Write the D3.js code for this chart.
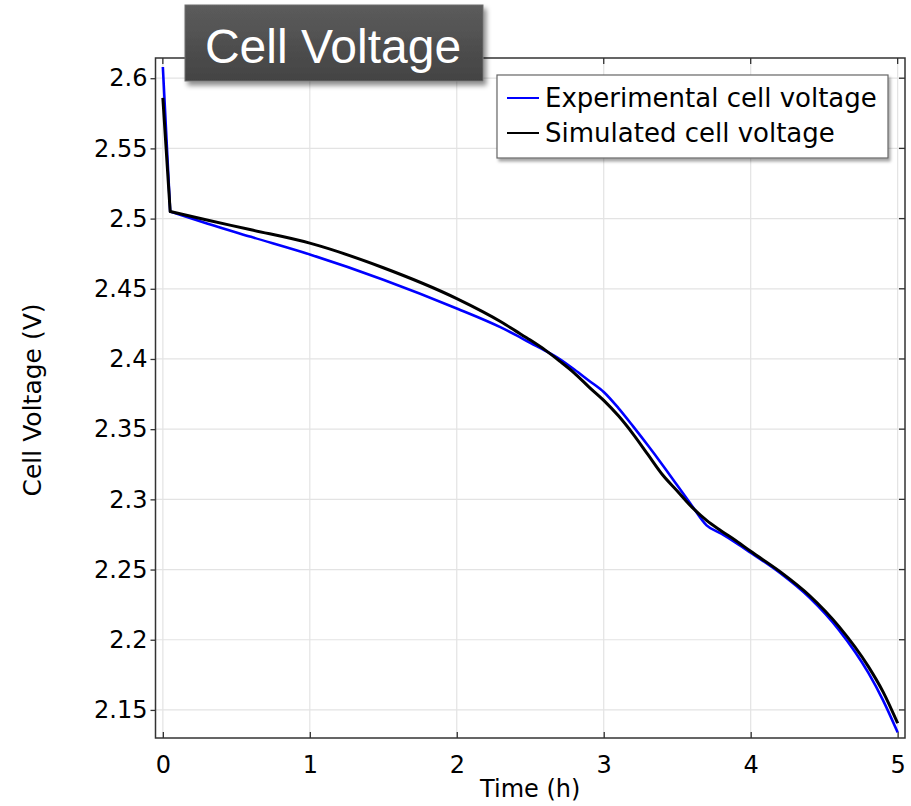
<!DOCTYPE html>
<html>
<head>
<meta charset="utf-8">
<script src="https://cdn.jsdelivr.net/npm/d3@7"></script>
<style>
  html, body { margin: 0; padding: 0; background: #fff; }
  svg { display: block; }
</style>
</head>
<body>
<svg id="chart" width="911" height="806"></svg>
<script>
// ---- data ----
const expTime = [0, 0.05, 0.3, 0.6, 1.0, 1.5, 2.0, 2.3, 2.4, 2.5, 2.6, 2.7, 2.8, 2.9, 3.0, 3.1, 3.2, 3.3, 3.4, 3.5, 3.6, 3.7, 3.8, 3.9, 4.0, 4.2, 4.4, 4.6, 4.8, 4.9, 5.0];
const expVolt = [2.608, 2.505, 2.4965, 2.487, 2.4745, 2.4565, 2.436, 2.4225, 2.4172, 2.4115, 2.406, 2.400, 2.3925, 2.3845, 2.3765, 2.365, 2.352, 2.3385, 2.3245, 2.310, 2.2955, 2.2815, 2.2755, 2.269, 2.262, 2.2475, 2.230, 2.207, 2.1765, 2.157, 2.134];
const simTime = [0, 0.05, 0.3, 0.6, 1.0, 1.5, 2.0, 2.3, 2.4, 2.5, 2.6, 2.7, 2.8, 2.9, 3.0, 3.1, 3.2, 3.3, 3.4, 3.5, 3.6, 3.7, 3.8, 3.9, 4.0, 4.2, 4.4, 4.6, 4.8, 4.9, 5.0];
const simVolt = [2.586, 2.505, 2.499, 2.492, 2.4825, 2.465, 2.443, 2.4265, 2.420, 2.4135, 2.4065, 2.3985, 2.390, 2.380, 2.3705, 2.3595, 2.3465, 2.332, 2.3175, 2.306, 2.2945, 2.285, 2.2775, 2.2705, 2.263, 2.2485, 2.2315, 2.2095, 2.181, 2.163, 2.1405];
const xTicks = [0, 1, 2, 3, 4, 5];
const yTicks = [2.15, 2.2, 2.25, 2.3, 2.35, 2.4, 2.45, 2.5, 2.55, 2.6];
const seriesNames = ["Experimental cell voltage", "Simulated cell voltage"];
const seriesColors = ["#0000ff", "#000000"];
const titleText = "Cell Voltage";
const xLabel = "Time (h)";
const yLabel = "Cell Voltage (V)";

// ---- layout ----
const svg = d3.select("#chart");
const L = 155.5, R = 905, T = 58, B = 738;
const x = d3.scaleLinear().domain([-0.05, 5.05]).range([L, R]);
const y = d3.scaleLinear().domain([2.13, 2.6144]).range([B, T]);
const font = "'DejaVu Sans', Verdana, sans-serif";

const defs = svg.append("defs");
const sh = defs.append("filter").attr("id", "shadow").attr("x", "-10%").attr("y", "-10%").attr("width", "130%").attr("height", "140%");
sh.append("feDropShadow").attr("dx", 3).attr("dy", 4).attr("stdDeviation", 2.5).attr("flood-color", "#000").attr("flood-opacity", 0.45);
const sh2 = defs.append("filter").attr("id", "shadow2").attr("x", "-5%").attr("y", "-10%").attr("width", "115%").attr("height", "140%");
sh2.append("feDropShadow").attr("dx", 2).attr("dy", 3).attr("stdDeviation", 1.5).attr("flood-color", "#000").attr("flood-opacity", 0.35);
const grad = defs.append("linearGradient").attr("id", "tg").attr("x1", 0).attr("y1", 0).attr("x2", 0).attr("y2", 1);
grad.append("stop").attr("offset", "0%").attr("stop-color", "#5c5c5c");
grad.append("stop").attr("offset", "100%").attr("stop-color", "#434343");

// grid
const g = svg.append("g");
g.append("g").selectAll("line").data(xTicks).join("line")
  .attr("x1", d => x(d)).attr("x2", d => x(d)).attr("y1", T).attr("y2", B)
  .attr("stroke", "#e3e3e3").attr("stroke-width", 1.2);
g.append("g").selectAll("line").data(yTicks).join("line")
  .attr("y1", d => y(d)).attr("y2", d => y(d)).attr("x1", L).attr("x2", R)
  .attr("stroke", "#e3e3e3").attr("stroke-width", 1.2);

// axes
const xAxis = d3.axisBottom(x).tickValues(xTicks).tickFormat(d3.format("d")).tickSizeInner(-6).tickSizeOuter(0).tickPadding(18);
const yAxis = d3.axisLeft(y).tickValues(yTicks).tickFormat(d => String(+d.toFixed(2))).tickSizeInner(5).tickSizeOuter(0).tickPadding(3);
const xa = svg.append("g").attr("transform", `translate(0,${B})`).call(xAxis);
const ya = svg.append("g").attr("transform", `translate(${L},0)`).call(yAxis);
[xa, ya].forEach(a => {
  a.select(".domain").remove();
  a.selectAll(".tick line").attr("stroke", "#333").attr("stroke-width", 1.3);
  a.selectAll("text").attr("font-family", font).attr("font-size", 24).attr("fill", "#000");
});
// top & right inward ticks
svg.append("g").selectAll("line").data(xTicks).join("line")
  .attr("x1", d => x(d)).attr("x2", d => x(d)).attr("y1", T).attr("y2", T + 6)
  .attr("stroke", "#333").attr("stroke-width", 1.3);
svg.append("g").selectAll("line").data(yTicks).join("line")
  .attr("y1", d => y(d)).attr("y2", d => y(d)).attr("x1", R).attr("x2", R - 6)
  .attr("stroke", "#333").attr("stroke-width", 1.3);

// frame
svg.append("rect").attr("x", L).attr("y", T).attr("width", R - L).attr("height", B - T)
  .attr("fill", "none").attr("stroke", "#333").attr("stroke-width", 1.5);

// lines: straight initial drop, smooth afterwards
const straight = d3.line().x(d => x(d[0])).y(d => y(d[1]));
const smooth = d3.line().x(d => x(d[0])).y(d => y(d[1])).curve(d3.curveMonotoneX);
function pathD(pts) {
  const a = straight(pts.slice(0, 2));
  const b = smooth(pts.slice(1)).replace(/^M[^A-Za-z]*/, "");
  return a + b;
}
const clip = defs.append("clipPath").attr("id", "plotclip");
clip.append("rect").attr("x", L).attr("y", T).attr("width", R - L).attr("height", B - T);
const plot = svg.append("g").attr("clip-path", "url(#plotclip)");
plot.append("path").attr("d", pathD(expTime.map((t, i) => [t, expVolt[i]])))
  .attr("fill", "none").attr("stroke", seriesColors[0]).attr("stroke-width", 2.6).attr("stroke-linejoin", "round");
plot.append("path").attr("d", pathD(simTime.map((t, i) => [t, simVolt[i]])))
  .attr("fill", "none").attr("stroke", seriesColors[1]).attr("stroke-width", 3).attr("stroke-linejoin", "round");

// axis labels
svg.append("text").attr("x", (x(0) + x(5)) / 2).attr("y", 797).attr("text-anchor", "middle")
  .attr("font-family", font).attr("font-size", 24).text(xLabel);
svg.append("text").attr("transform", "translate(41,400) rotate(-90)").attr("text-anchor", "middle")
  .attr("font-family", font).attr("font-size", 25).text(yLabel);

// legend
const lg = svg.append("g");
lg.append("rect").attr("x", 497).attr("y", 75).attr("width", 391).attr("height", 83)
  .attr("fill", "#fff").attr("stroke", "#666").attr("stroke-width", 1.2).attr("filter", "url(#shadow2)");
seriesNames.forEach((name, i) => {
  const cy = 98 + i * 35;
  lg.append("line").attr("x1", 507).attr("x2", 539).attr("y1", cy).attr("y2", cy)
    .attr("stroke", seriesColors[i]).attr("stroke-width", 2);
  lg.append("text").attr("x", 545).attr("y", cy + 9).attr("font-family", font).attr("font-size", 26)
    .attr("fill", "#000").text(name);
});

// title box
svg.append("rect").attr("x", 185).attr("y", 5).attr("width", 298).attr("height", 76)
  .attr("fill", "url(#tg)").attr("stroke", "#6e6e6e").attr("stroke-width", 1).attr("filter", "url(#shadow)");
svg.append("text").attr("x", 333).attr("y", 63).attr("text-anchor", "middle")
  .attr("font-family", "'Liberation Sans', Arial, sans-serif").attr("font-size", 48).attr("fill", "#fff").text(titleText);
</script>
</body>
</html>
